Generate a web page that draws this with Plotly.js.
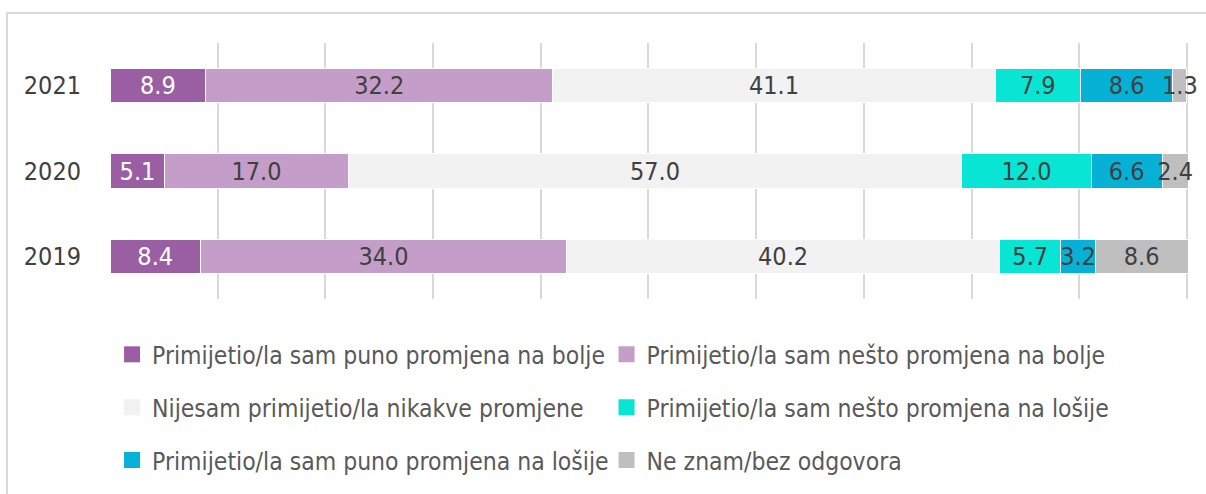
<!DOCTYPE html>
<html>
<head>
<meta charset="utf-8">
<script src="https://cdn.plot.ly/plotly-3.0.1.min.js"></script>
<style>
  html, body { margin: 0; padding: 0; background: #ffffff; }
  #wrap { position: relative; width: 1206px; height: 494px; overflow: hidden; }
  #frame { position: absolute; left: 6px; top: 12px; width: 1300px; height: 600px;
           border: 2px solid #d9d9d9; box-sizing: border-box; pointer-events: none; }
  #chart { position: absolute; left: 0; top: 0; width: 1206px; height: 494px; }
</style>
</head>
<body>
<div id="wrap">
  <div id="frame"></div>
  <div id="chart"></div>
</div>
<script>
const years = ["2019", "2020", "2021"];
const seriesNames = [
  "Primijetio/la sam puno promjena na bolje",
  "Primijetio/la sam nešto promjena na bolje",
  "Nijesam primijetio/la nikakve promjene",
  "Primijetio/la sam nešto promjena na lošije",
  "Primijetio/la sam puno promjena na lošije",
  "Ne znam/bez odgovora"
];
const puno_bolje   = [8.4, 5.1, 8.9];
const nesto_bolje  = [34.0, 17.0, 32.2];
const nikakve      = [40.2, 57.0, 41.1];
const nesto_losije = [5.7, 12.0, 7.9];
const puno_losije  = [3.2, 6.6, 8.6];
const ne_znam      = [8.6, 2.4, 1.3];

const seriesValues = [puno_bolje, nesto_bolje, nikakve, nesto_losije, puno_losije, ne_znam];
const colors = ["#9a5fa2", "#c49ec8", "#f2f2f2", "#08e5d5", "#07b0d5", "#bfbfbf"];
const textColors = ["#ffffff", "#404040", "#404040", "#404040", "#404040", "#404040"];
const legendIds = ["legend", "legend2", "legend3", "legend4", "legend5", "legend6"];

const FONT = '"DejaVu Sans Condensed", "Liberation Sans Narrow", sans-serif';

const barTraces = seriesValues.map((vals, i) => ({
  type: "bar",
  orientation: "h",
  name: seriesNames[i],
  y: years,
  x: vals,
  text: vals.map(v => v.toFixed(1)),
  textposition: "inside",
  insidetextanchor: "middle",
  constraintext: "none",
  textangle: 0,
  cliponaxis: false,
  textfont: { family: FONT, size: 25, color: textColors[i] },
  marker: { color: colors[i], line: { color: "#ffffff", width: 1 } },
  showlegend: false,
  hoverinfo: "name+x"
}));

// legend-only entries (larger square swatches like the reference)
const legendTraces = seriesNames.map((name, i) => ({
  type: "scatter",
  mode: "markers",
  name: name,
  x: [null],
  y: [null],
  marker: { symbol: "square", size: 16, color: colors[i] },
  legend: legendIds[i],
  showlegend: true,
  hoverinfo: "skip"
}));

const legBase = {
  orientation: "h",
  xanchor: "left",
  yanchor: "middle",
  font: { family: FONT, size: 24.5, color: "#595959" },
  bgcolor: "rgba(0,0,0,0)",
  borderwidth: 0,
  itemsizing: "trace"
};
const colX = [0.0019, 0.4606];
const rowY = [-0.2164, -0.423, -0.6296];

const layout = {
  width: 1206,
  height: 494,
  margin: { l: 110, r: 18, t: 43, b: 194.5, pad: 0 },
  paper_bgcolor: "rgba(0,0,0,0)",
  plot_bgcolor: "rgba(0,0,0,0)",
  barmode: "stack",
  bargap: 0.6,
  font: { family: FONT, color: "#404040" },
  xaxis: {
    range: [0, 100.1],
    dtick: 10,
    tick0: 0,
    showgrid: true,
    gridcolor: "#d9d9d9",
    gridwidth: 2,
    zeroline: false,
    showticklabels: false,
    ticks: "",
    showline: false,
    fixedrange: true
  },
  yaxis: {
    type: "category",
    categoryorder: "array",
    categoryarray: years,
    range: [-0.5, 2.5],
    showgrid: false,
    zeroline: false,
    ticks: "",
    ticklen: 0,
    tickfont: { family: FONT, size: 25, color: "#404040" },
    ticklabelstandoff: 28,
    fixedrange: true
  },
  showlegend: true
};
legendIds.forEach((id, i) => {
  layout[id] = Object.assign({}, legBase, { x: colX[i % 2], y: rowY[Math.floor(i / 2)] });
});

Plotly.newPlot("chart", barTraces.concat(legendTraces), layout, { displayModeBar: false, staticPlot: true });
</script>
</body>
</html>
